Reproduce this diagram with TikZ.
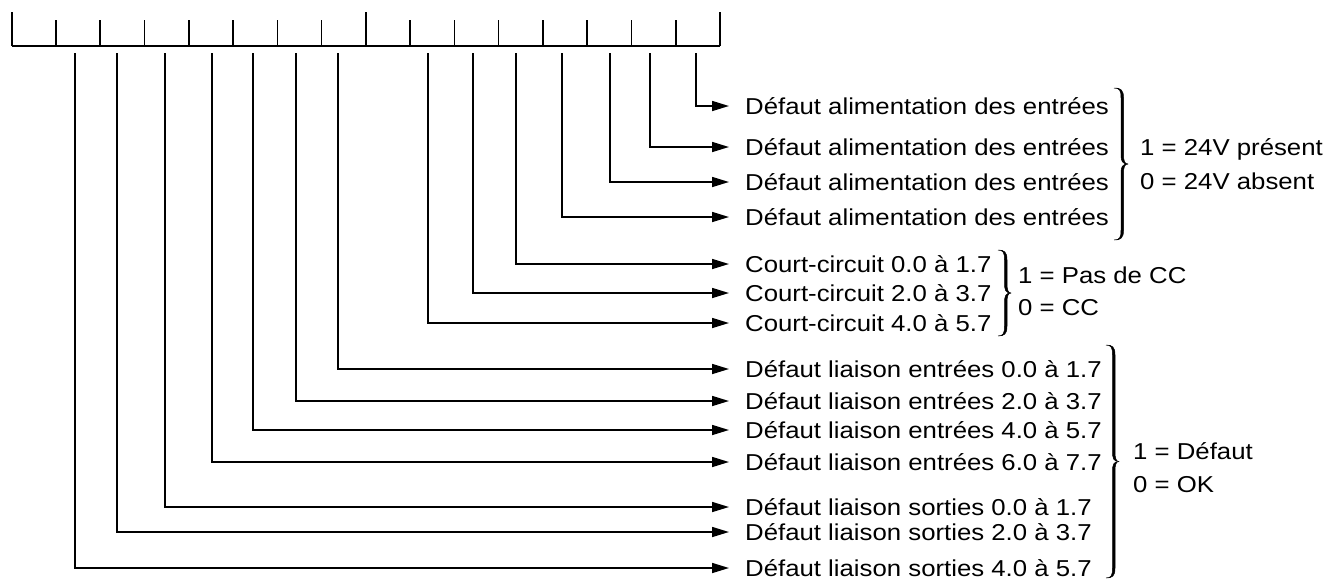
\documentclass[tikz,border=0pt]{standalone}
\usepackage{fontspec}
\setmainfont{Liberation Sans}[FakeStretch=1.12]
\usetikzlibrary{arrows.meta}
% half of a tapered curly brace: x of tips, y of tip, y of cusp, amplitude, direction (1 or -1)
\newcommand\halfbrace[5]{%
  \filldraw[line width=0.5pt] (#1,#2)
    .. controls ({#1+#4/2-1},#2) and ({#1+#4/2},{#2+(#5)*3}) .. ({#1+#4/2},{#2+(#5)*10})
    -- ({#1+#4/2},{#3-(#5)*10})
    .. controls ({#1+#4/2},{#3-(#5)*3}) and ({#1+#4/2+1},#3) .. ({#1+#4},#3)
    .. controls ({#1+#4/2+3.5},#3) and ({#1+#4/2+2.5},{#3-(#5)*3}) .. ({#1+#4/2+2.5},{#3-(#5)*10})
    -- ({#1+#4/2+2.5},{#2+(#5)*10})
    .. controls ({#1+#4/2+2.5},{#2+(#5)*2}) and ({#1+#4/2},#2) .. (#1,#2) -- cycle;}
\newcommand\tbrace[4]{% x, ytop, ybottom, amplitude
  \pgfmathsetmacro\bracemid{(#2+#3)/2}%
  \halfbrace{#1}{#2}{\bracemid}{#4}{1}%
  \halfbrace{#1}{#3}{\bracemid}{#4}{-1}}
\begin{document}
\begin{tikzpicture}[x=1pt,y=-1pt,
  reg/.style={line width=1.6pt},
  conn/.style={line width=1.6pt,-{Triangle[length=17pt,width=10pt]}},
  lbl/.style={anchor=west,inner xsep=16pt,inner ysep=0pt,font=\fontsize{23}{26}\selectfont,text height=16.5pt,text depth=0pt},
  val/.style={anchor=west,inner sep=0pt,font=\fontsize{23}{26}\selectfont,text height=16.5pt,text depth=0pt}]
\useasboundingbox (0,0) rectangle (1330,579);
% register
\draw[reg] (11.7,46) -- (720,46);
\foreach \i in {0,8,16} \draw[reg] ({11.7+44.27*\i},46) -- ({11.7+44.27*\i},12);
\foreach \i in {1,2,3,4,5,6,7,9,10,11,12,13,14,15} \draw[reg] ({11.7+44.27*\i},46) -- ({11.7+44.27*\i},20);
% bit taps
\coordinate (b1) at (696,53);
\coordinate (b2) at (650,53);
\coordinate (b3) at (610,53);
\coordinate (b4) at (562,53);
\coordinate (b5) at (516,53);
\coordinate (b6) at (473,53);
\coordinate (b7) at (428,53);
\coordinate (b8) at (338,53);
\coordinate (b9) at (296,53);
\coordinate (b10) at (253,53);
\coordinate (b11) at (212,53);
\coordinate (b12) at (165,53);
\coordinate (b13) at (117,53);
\coordinate (b14) at (75,53);
% labels
\node[lbl] (t1) at (729,106) {Défaut alimentation des entrées};
\node[lbl] (t2) at (729,147) {Défaut alimentation des entrées};
\node[lbl] (t3) at (729,182) {Défaut alimentation des entrées};
\node[lbl] (t4) at (729,217) {Défaut alimentation des entrées};
\node[lbl] (t5) at (729,264) {Court-circuit 0.0 à 1.7};
\node[lbl] (t6) at (729,293) {Court-circuit 2.0 à 3.7};
\node[lbl] (t7) at (729,323) {Court-circuit 4.0 à 5.7};
\node[lbl] (t8) at (729,369) {Défaut liaison entrées 0.0 à 1.7};
\node[lbl] (t9) at (729,401) {Défaut liaison entrées 2.0 à 3.7};
\node[lbl] (t10) at (729,430) {Défaut liaison entrées 4.0 à 5.7};
\node[lbl] (t11) at (729,462) {Défaut liaison entrées 6.0 à 7.7};
\node[lbl] (t12) at (729,507) {Défaut liaison sorties 0.0 à 1.7};
\node[lbl] (t13) at (729,532) {Défaut liaison sorties 2.0 à 3.7};
\node[lbl] (t14) at (729,568) {Défaut liaison sorties 4.0 à 5.7};
\foreach \k in {1,...,14} \draw[conn] (b\k) |- (t\k.west);
% braces
\tbrace{1114}{88}{240}{14}
\node[val] (v1a) at (1140,147) {1 = 24V présent};
\node[val] (v1b) at (1140,181) {0 = 24V absent};
\tbrace{998}{250}{336}{13}
\node[val] (v2a) at (1018,275) {1 = Pas de CC};
\node[val] (v2b) at (1018,307) {0 = CC};
\tbrace{1106}{345}{578}{13}
\node[val] (v3a) at (1133,451) {1 = Défaut};
\node[val] (v3b) at (1133,484) {0 = OK};
\end{tikzpicture}
\end{document}
